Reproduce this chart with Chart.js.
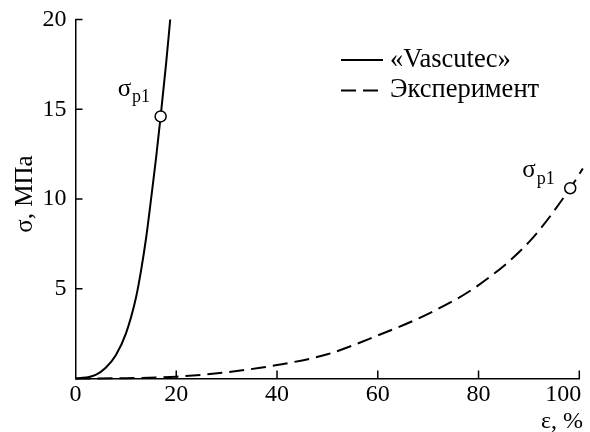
<!DOCTYPE html>
<html>
<head>
<meta charset="utf-8">
<script src="https://cdn.jsdelivr.net/npm/chart.js@4/dist/chart.umd.min.js"></script>
<style>
  html, body { margin: 0; padding: 0; background: #fff; }
  #wrap { width: 590px; height: 432px; }
</style>
</head>
<body>
<div id="wrap"><canvas id="c" width="590" height="432"></canvas></div>
<script>
// Strain (ε, %) and stress (σ, MPa) for the two curves
const vascutecStrain = [0, 2, 4, 6, 8, 10, 12, 13, 14, 15, 16, 16.9, 18, 18.8];
const vascutecStress = [0, 0.05, 0.2, 0.6, 1.3, 2.5, 4.5, 6, 7.8, 10, 12.3, 14.6, 17.6, 20];
const experimentStrain = [0, 10, 20, 30, 40, 50, 60, 70, 80, 90, 98.2, 100.7];
const experimentStress = [0, 0.02, 0.1, 0.35, 0.75, 1.35, 2.4, 3.6, 5.2, 7.6, 10.6, 11.7];

// Rupture points σp1
const vascutecPeak = { x: 16.9, y: 14.6 };
const experimentPeak = { x: 98.2, y: 10.6 };

const seriesNames = ['«Vascutec»', 'Эксперимент'];
const xTicks = [0, 20, 40, 60, 80, 100];
const yTicks = [5, 10, 15, 20];
const xTitle = 'ε, %';
const yTitle = 'σ, МПа';

const SERIF = '"Liberation Serif", "Times New Roman", serif';
const zip = (xs, ys) => xs.map((x, i) => ({ x, y: ys[i] }));

// Inward tick marks, x tick labels, axis titles, legend and σp1 labels
const decorations = {
  id: 'decorations',
  afterDraw(chart) {
    const { ctx, scales: { x, y }, chartArea: a } = chart;
    ctx.save();
    ctx.strokeStyle = '#000';
    ctx.lineWidth = 1.5;
    ctx.beginPath();
    xTicks.forEach(v => {
      if (v === 0) return;
      const px = x.getPixelForValue(v);
      ctx.moveTo(px, a.bottom);
      ctx.lineTo(px, a.bottom - 8);
    });
    yTicks.forEach(v => {
      const py = y.getPixelForValue(v);
      ctx.moveTo(a.left, py);
      ctx.lineTo(a.left + 7, py);
    });
    ctx.stroke();

    ctx.fillStyle = '#000';
    // x tick labels; the last one is kept inside the canvas
    ctx.font = '24px ' + SERIF;
    ctx.textBaseline = 'middle';
    xTicks.forEach((v, i) => {
      const px = x.getPixelForValue(v);
      if (i === xTicks.length - 1) {
        ctx.textAlign = 'right';
        ctx.fillText(String(v), px + 2, a.bottom + 16);
      } else {
        ctx.textAlign = 'center';
        ctx.fillText(String(v), px, a.bottom + 16);
      }
    });

    // axis titles
    ctx.font = '24px ' + SERIF;
    ctx.textAlign = 'right';
    ctx.textBaseline = 'middle';
    ctx.fillText(xTitle, 583, 422);
    ctx.save();
    ctx.translate(25, 194);
    ctx.rotate(-Math.PI / 2);
    ctx.textAlign = 'center';
    ctx.font = '25px ' + SERIF;
    ctx.fillText(yTitle, 0, 0);
    ctx.restore();

    // legend
    const ds = chart.data.datasets;
    [0, 1].forEach(i => {
      const rowY = 60 + i * 30.5;
      ctx.save();
      ctx.lineWidth = 2;
      ctx.setLineDash(ds[i].borderDash || []);
      ctx.beginPath();
      ctx.moveTo(341, rowY);
      ctx.lineTo(383, rowY);
      ctx.stroke();
      ctx.restore();
      ctx.font = '26.5px ' + SERIF;
      ctx.textAlign = 'left';
      ctx.textBaseline = 'middle';
      ctx.fillText(ds[i].label, 390, rowY);
    });

    // σp1 labels next to the rupture markers
    const tag = (pt, dx, dy, subDy) => {
      const px = x.getPixelForValue(pt.x) + dx;
      const py = y.getPixelForValue(pt.y) + dy;
      ctx.textAlign = 'left';
      ctx.textBaseline = 'alphabetic';
      ctx.font = '25px ' + SERIF;
      ctx.fillText('σ', px, py);
      const w = ctx.measureText('σ').width;
      ctx.font = '18px ' + SERIF;
      ctx.fillText('p1', px + w + 1, py + subDy);
    };
    tag(vascutecPeak, -43, -20, 6);
    tag(experimentPeak, -48, -11, 7);
    ctx.restore();
  }
};

const marker = {
  pointRadius: 5.5,
  pointHoverRadius: 5.5,
  pointBackgroundColor: '#fff',
  pointBorderColor: '#000',
  pointBorderWidth: 1.5,
  showLine: false,
  clip: false,
  order: 0
};

new Chart(document.getElementById('c'), {
  type: 'line',
  data: {
    datasets: [
      {
        label: seriesNames[0],
        data: zip(vascutecStrain, vascutecStress),
        borderColor: '#000',
        borderWidth: 2,
        pointRadius: 0,
        cubicInterpolationMode: 'monotone',
        clip: false,
        order: 1
      },
      {
        label: seriesNames[1],
        data: zip(experimentStrain, experimentStress),
        borderColor: '#000',
        borderWidth: 2,
        borderDash: [15, 7],
        pointRadius: 0,
        cubicInterpolationMode: 'monotone',
        clip: false,
        order: 1
      },
      Object.assign({ label: 'peak1', data: [vascutecPeak] }, marker),
      Object.assign({ label: 'peak2', data: [experimentPeak] }, marker)
    ]
  },
  options: {
    responsive: false,
    animation: false,
    events: [],
    layout: { padding: { top: 19.5, right: 10.7, left: 0, bottom: 0 } },
    plugins: { legend: { display: false }, tooltip: { enabled: false } },
    scales: {
      x: {
        type: 'linear',
        min: 0,
        max: 100,
        afterBuildTicks: s => { s.ticks = xTicks.map(v => ({ value: v })); },
        ticks: { display: false },
        grid: { display: false, drawTicks: false },
        border: { display: true, color: '#000', width: 1.5 },
        afterFit: s => { s.height = 53.5; s.paddingLeft = 0; s.paddingRight = 0; }
      },
      y: {
        type: 'linear',
        min: 0,
        max: 20,
        afterBuildTicks: s => { s.ticks = yTicks.map(v => ({ value: v })); },
        ticks: { font: { family: SERIF, size: 24 }, color: '#000', padding: 9 },
        grid: { display: false, drawTicks: false },
        border: { display: true, color: '#000', width: 1.5 },
        afterFit: s => { s.width = 75.5; s.paddingTop = 0; s.paddingBottom = 0; }
      }
    }
  },
  plugins: [decorations]
});
</script>
</body>
</html>
